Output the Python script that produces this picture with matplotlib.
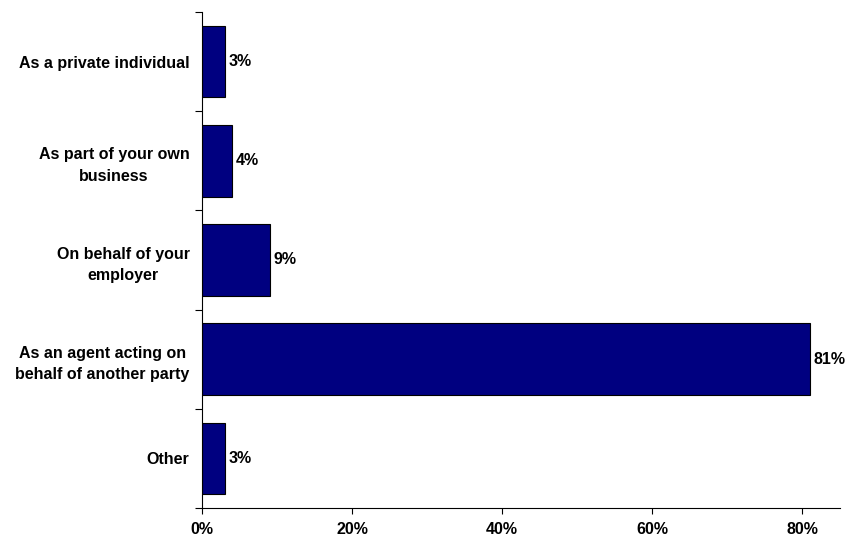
import numpy as np
import matplotlib.pyplot as plt

plt.rcParams['font.family'] = ['Liberation Sans Narrow', 'Liberation Sans', 'DejaVu Sans']

categories = ["As a private individual", "As part of your own\nbusiness",
              "On behalf of your\nemployer", "As an agent acting on\nbehalf of another party",
              "Other"]
values = [3, 4, 9, 81, 3]
xticks = [0, 20, 40, 60, 80]

fig = plt.figure(figsize=(8.46, 5.45), dpi=100)
ax = fig.add_axes([202/846, 37/545, 638/846, 496/545])

y = np.arange(len(categories))
ax.barh(y, values, height=0.72, color='#000080', edgecolor='black', linewidth=0.8)
for yi, v in zip(y, values):
    ax.text(v + 0.5, yi, f"{v}%", va='center', ha='left', fontsize=11.5, fontweight='bold')

ax.set_xlim(0, 85)
ax.set_ylim(len(categories) - 0.5, -0.5)
ax.set_xticks(xticks)
ax.set_xticklabels([f"{t}%" for t in xticks], fontsize=11.5, fontweight='bold')
ax.set_yticks(y)
ax.set_yticklabels(categories, fontsize=11.5, fontweight='bold', linespacing=1.55)
for lbl in ax.get_yticklabels():
    lbl.set_multialignment('center')
ax.tick_params(axis='y', length=0, pad=9)
ax.set_yticks(np.arange(-0.5, len(categories)), minor=True)
ax.tick_params(axis='y', which='minor', length=5, width=0.8)
ax.tick_params(axis='x', length=4, width=0.8, pad=6)
ax.spines['top'].set_visible(False)
ax.spines['right'].set_visible(False)
ax.spines['left'].set_linewidth(0.8)
ax.spines['bottom'].set_linewidth(0.8)

fig.savefig('out.png', dpi=100)
